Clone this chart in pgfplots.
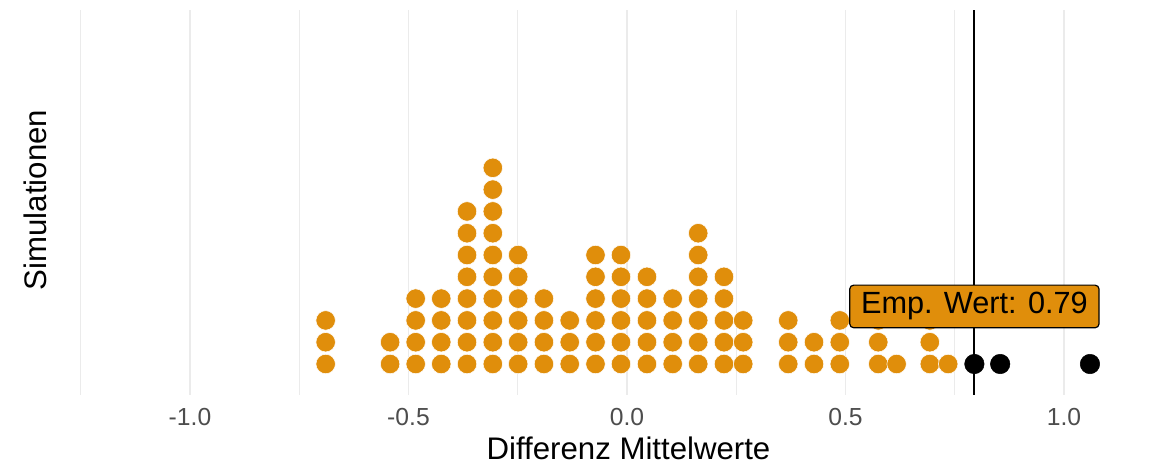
\documentclass[border=0pt]{standalone}
\usepackage{fontspec}
\setmainfont{Liberation Sans}
\usepackage{pgfplots}
\pgfplotsset{compat=1.18}
\definecolor{dotorange}{HTML}{E08E0B}
\definecolor{gridgray}{HTML}{EBEBEB}
\definecolor{ticktext}{HTML}{4D4D4D}
\begin{document}
\begin{tikzpicture}
\useasboundingbox (0,0) rectangle (868.5pt,348.75pt);
\begin{axis}[
  at={(40.875pt,52.5pt)}, anchor=south west,
  scale only axis, width=819.375pt, height=288.75pt,
  xmin=-1.31, xmax=1.19, ymin=-0.422, ymax=17.24,
  axis line style={draw=none}, tick style={draw=none},
  xtick={-1,-0.5,0,0.5,1},
  xticklabels={-1.0,-0.5,0.0,0.5,1.0},
  minor xtick={-1.25,-0.75,-0.25,0.25,0.75},
  ytick=\empty,
  xmajorgrids, xminorgrids,
  major grid style={gridgray, line width=1.2pt},
  minor grid style={gridgray, line width=0.7pt},
  xticklabel style={font=\fontsize{18.5}{22}\selectfont, text=ticktext, anchor=center, yshift=-16.5pt},
  xlabel={Differenz Mittelwerte},
  xlabel style={font=\fontsize{23.4}{28}\selectfont, at={(axis description cs:0.5254,-0.139)}, anchor=center},
  ylabel={Simulationen},
  ylabel style={font=\fontsize{23.4}{28}\selectfont, at={(axis description cs:-0.0179,0.5065)}, anchor=center, rotate=0},
  clip=false,
]
\addplot[only marks, mark=*, mark size=7.3pt, mark options={fill=dotorange, draw=white, line width=0.4pt}] table {
x y
-0.6895 1
-0.6895 2
-0.6895 3
-0.542 1
-0.542 2
-0.4835 1
-0.4835 2
-0.4835 3
-0.4835 4
-0.425 1
-0.425 2
-0.425 3
-0.425 4
-0.366 1
-0.366 2
-0.366 3
-0.366 4
-0.366 5
-0.366 6
-0.366 7
-0.366 8
-0.307 1
-0.307 2
-0.307 3
-0.307 4
-0.307 5
-0.307 6
-0.307 7
-0.307 8
-0.307 9
-0.307 10
-0.249 1
-0.249 2
-0.249 3
-0.249 4
-0.249 5
-0.249 6
-0.190 1
-0.190 2
-0.190 3
-0.190 4
-0.131 1
-0.131 2
-0.131 3
-0.072 1
-0.072 2
-0.072 3
-0.072 4
-0.072 5
-0.072 6
-0.0137 1
-0.0137 2
-0.0137 3
-0.0137 4
-0.0137 5
-0.0137 6
0.0458 1
0.0458 2
0.0458 3
0.0458 4
0.0458 5
0.1046 1
0.1046 2
0.1046 3
0.1046 4
0.163 1
0.163 2
0.163 3
0.163 4
0.163 5
0.163 6
0.163 7
0.222 1
0.222 2
0.222 3
0.222 4
0.222 5
0.266 1
0.266 2
0.266 3
0.369 1
0.369 2
0.369 3
0.428 1
0.428 2
0.487 1
0.487 2
0.487 3
0.575 1
0.575 2
0.575 3
0.617 1
0.693 1
0.693 2
0.693 3
0.735 1
};
\addplot[only marks, mark=*, mark size=7.3pt, mark options={fill=black, draw=black, line width=0.4pt}] table {
x y
0.795 1
0.854 1
1.0595 1
};
\addplot[black, line width=1.5pt] coordinates {(0.794,-0.42) (0.794,17.24)};
\coordinate (lab) at (axis cs:0.795,3.64);
\end{axis}
\node[fill=dotorange, draw=black, line width=0.9pt, rounded corners=3pt, inner xsep=8.5pt, minimum height=32pt, font=\fontsize{23}{27}\selectfont] at (lab) {Emp. Wert: 0.79};
\end{tikzpicture}
\end{document}
